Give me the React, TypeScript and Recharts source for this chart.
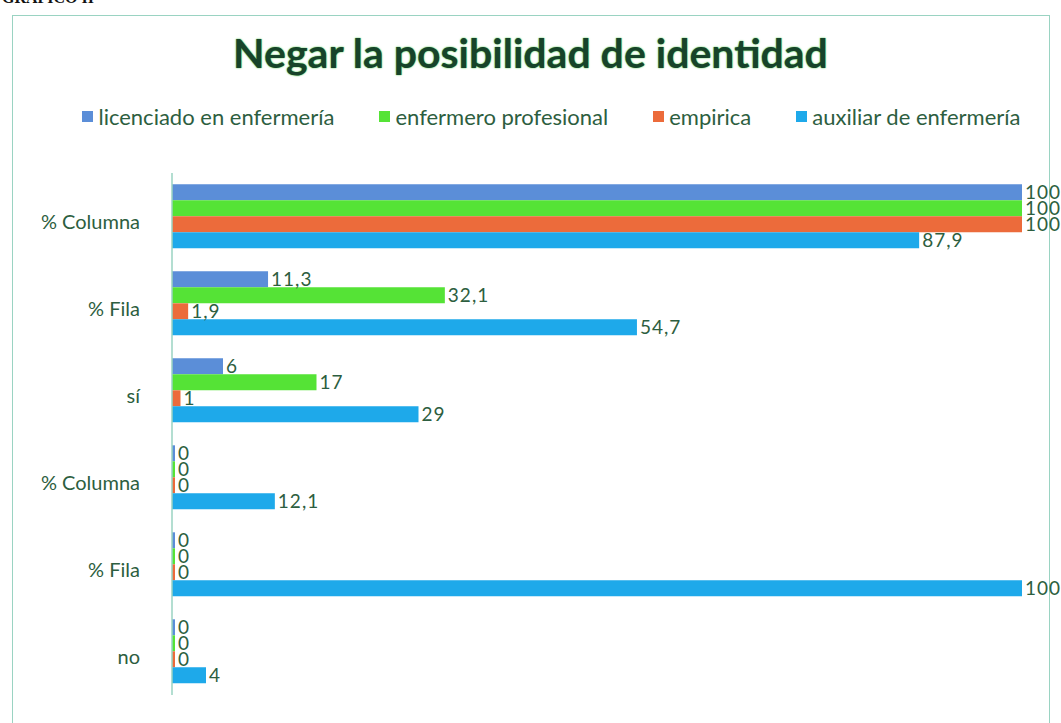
import { BarChart, Bar, XAxis, YAxis, LabelList } from 'recharts'

const categories = ['% Columna', '% Fila', 'sí', '% Columna', '% Fila', 'no']
const licenciado = [100, 11.3, 6, 0, 0, 0]
const enfermero = [100, 32.1, 17, 0, 0, 0]
const empirica = [100, 1.9, 1, 0, 0, 0]
const auxiliar = [87.9, 54.7, 29, 12.1, 100, 4]

const series = [
  { key: 'licenciado', name: 'licenciado en enfermería', color: '#5b8ed8' },
  { key: 'enfermero', name: 'enfermero profesional', color: '#55e336' },
  { key: 'empirica', name: 'empirica', color: '#ec6b3b' },
  { key: 'auxiliar', name: 'auxiliar de enfermería', color: '#1ea9ea' },
]

const data = categories.map((c, i) => ({
  cat: c,
  licenciado: licenciado[i],
  enfermero: enfermero[i],
  empirica: empirica[i],
  auxiliar: auxiliar[i],
}))

const font = 'Lato, "Open Sans", sans-serif'
const textColor = '#2d5e40'
const fmt = (v: unknown) => String(v).replace('.', ',')

export default function App() {
  return (
    <div style={{ position: 'absolute', left: 0, top: 0, width: 1061, height: 723, overflow: 'hidden', background: '#fff', fontFamily: font }}>
      <div style={{ position: 'absolute', left: 2, top: -11, fontFamily: '"Liberation Serif", serif', fontWeight: 700, fontSize: 16, color: '#111' }}>
        GRAFICO II
      </div>
      <div style={{ position: 'absolute', left: 12, top: 15, width: 1036, height: 740, border: '1.5px solid #9ad3c2' }} />
      <div style={{ position: 'absolute', left: 0, top: 28, width: 1061, textAlign: 'center', fontSize: 41, fontWeight: 700, color: '#17432a', textShadow: '0 0 2px #6fd26f, 0 0 1px #6fd26f' }}>
        Negar la posibilidad de identidad
      </div>
      <div style={{ position: 'absolute', left: 0, top: 103, width: 1061, boxSizing: 'border-box', display: 'flex', justifyContent: 'center', fontSize: 22, color: textColor, gap: 45, paddingLeft: 42 }}>
        {series.map((s) => (
          <span key={s.key} style={{ display: 'flex', alignItems: 'center', whiteSpace: 'nowrap' }}>
            <span style={{ width: 11, height: 11, background: s.color, marginRight: 5, display: 'inline-block' }} />
            {s.name}
          </span>
        ))}
      </div>
      <div style={{ position: 'absolute', left: 0, top: 0 }}>
        <BarChart
          width={1061}
          height={723}
          data={data}
          layout="vertical"
          margin={{ top: 173, right: 39, bottom: 28, left: 0 }}
          barCategoryGap="13%"
          barGap={0}
        >
          <XAxis type="number" domain={[0, 100]} hide />
          <YAxis
            type="category"
            dataKey="cat"
            width={172}
            tickSize={0}
            tickMargin={32}
            tickLine={false}
            axisLine={{ stroke: '#9ad3c2', strokeWidth: 1.5 }}
            tick={{ fill: textColor, fontSize: 20, fontFamily: font, dy: 5 }}
          />
          {series.map((s) => (
            <Bar key={s.key} dataKey={s.key} name={s.name} fill={s.color} minPointSize={3} isAnimationActive={false}>
              <LabelList
                dataKey={s.key}
                position="right"
                offset={3}
                formatter={fmt}
                style={{ fill: textColor, fontSize: 19, letterSpacing: 1, fontFamily: font }}
              />
            </Bar>
          ))}
        </BarChart>
      </div>
    </div>
  )
}
